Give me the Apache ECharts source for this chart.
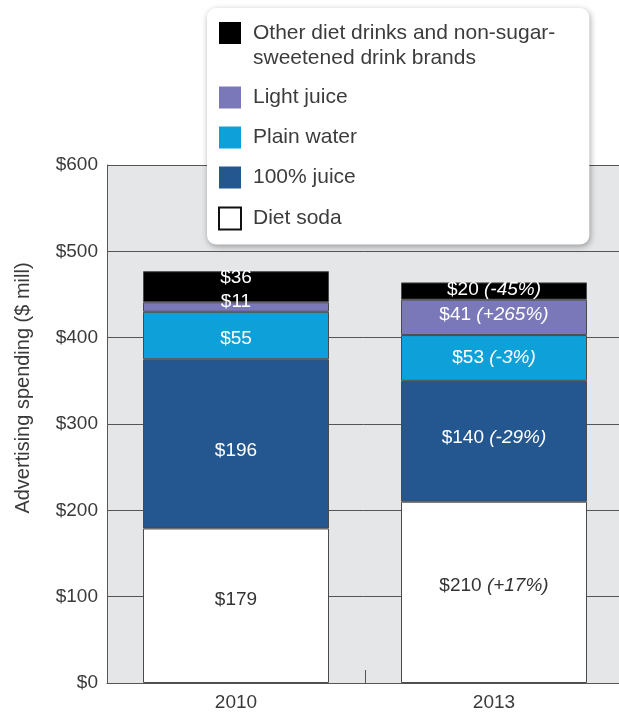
<!DOCTYPE html>
<html>
<head>
<meta charset="utf-8">
<script src="https://cdn.jsdelivr.net/npm/echarts@6/dist/echarts.min.js"></script>
<style>
  html, body { margin: 0; padding: 0; background: #fff; }
  #chart { width: 619px; height: 713px; }
</style>
</head>
<body>
<div id="chart"></div>
<script>
const years = ['2010', '2013'];
const yTicks = [0, 100, 200, 300, 400, 500, 600];

const dietSoda = [179, 210];
const juice100 = [196, 140];
const plainWater = [55, 53];
const lightJuice = [11, 41];
const otherDiet = [36, 20];

// change 2010 -> 2013, shown next to the 2013 value
const dietSodaChange = ['', '+17%'];
const juice100Change = ['', '-29%'];
const plainWaterChange = ['', '-3%'];
const lightJuiceChange = ['', '+265%'];
const otherDietChange = ['', '-45%'];

const OTHER_NAME = 'Other diet drinks and non-sugar-sweetened drink brands';
const FONT = 'Liberation Sans, Arial, sans-serif';

function makeSeries(name, values, changes, color, textColor, offsets) {
  return {
    name: name,
    type: 'bar',
    stack: 'total',
    barWidth: 186,
    itemStyle: { color: color, borderColor: '#4a4a4a', borderWidth: 1 },
    label: {
      show: true,
      position: 'inside',
      color: textColor,
      fontFamily: FONT,
      fontSize: 19,
      formatter: p => {
        const ch = changes[p.dataIndex];
        return ch ? '$' + p.value + ' {i|(' + ch + ')}' : '$' + p.value;
      },
      rich: {
        i: { fontStyle: 'italic', color: textColor, fontFamily: FONT, fontSize: 19 }
      }
    },
    data: values.map((v, i) => {
      const item = { value: v };
      if (offsets && offsets[i]) item.label = { offset: [0, offsets[i]] };
      return item;
    })
  };
}

const chart = echarts.init(document.getElementById('chart'));
chart.setOption({
  animation: false,
  textStyle: { fontFamily: FONT },
  grid: {
    left: 107, top: 165, width: 516, height: 518,
    outerBoundsMode: 'none',
    show: true, backgroundColor: '#e5e6e8', borderWidth: 0
  },
  legend: {
    orient: 'vertical',
    left: 207,
    top: 8,
    padding: [14, 34, 14, 11],
    icon: 'rect',
    itemWidth: 22,
    itemHeight: 22,
    itemGap: 18,
    backgroundColor: '#fff',
    borderRadius: 9,
    shadowBlur: 6,
    shadowOffsetX: 1,
    shadowOffsetY: 2,
    shadowColor: 'rgba(0,0,0,0.35)',
    selectedMode: false,
    textStyle: { fontSize: 21, color: '#3c3c3c', fontFamily: FONT, padding: [0, 0, 0, 7] },
    formatter: name => name === OTHER_NAME
      ? '{a|Other diet drinks and non-sugar-}\n{b|sweetened drink brands}'
      : name,
    data: [
      {
        name: OTHER_NAME,
        itemStyle: { borderWidth: 0 },
        textStyle: {
          padding: [10, 0, 10, 7],
          rich: {
            a: { fontSize: 21, color: '#3c3c3c', fontFamily: FONT, lineHeight: 50 },
            b: { fontSize: 21, color: '#3c3c3c', fontFamily: FONT, lineHeight: 0 }
          }
        }
      },
      { name: 'Light juice', itemStyle: { borderWidth: 0 } },
      { name: 'Plain water', itemStyle: { borderWidth: 0 } },
      { name: '100% juice', itemStyle: { borderWidth: 0 } },
      { name: 'Diet soda', itemStyle: { borderColor: '#111', borderWidth: 2 } }
    ]
  },
  xAxis: {
    type: 'category',
    data: years,
    axisLine: { lineStyle: { color: '#555', width: 1 } },
    axisTick: { show: true, inside: true, length: 13, lineStyle: { color: '#555' } },
    axisLabel: { fontSize: 19, color: '#3a3a3a', margin: 10 }
  },
  yAxis: {
    type: 'value',
    min: yTicks[0],
    max: yTicks[yTicks.length - 1],
    interval: 100,
    name: 'Advertising spending ($ mill)',
    nameLocation: 'middle',
    nameGap: 74,
    nameTextStyle: { fontSize: 20, color: '#3a3a3a', padding: [0, 0, 0, 72] },
    axisLine: { show: true, lineStyle: { color: '#555', width: 1 } },
    axisTick: { show: false },
    splitLine: { lineStyle: { color: '#555', width: 1 } },
    axisLabel: { fontSize: 19, color: '#3a3a3a', margin: 9, formatter: v => '$' + v }
  },
  series: [
    makeSeries('Diet soda', dietSoda, dietSodaChange, '#ffffff', '#333333', [-6, -7]),
    makeSeries('100% juice', juice100, juice100Change, '#24568f', '#ffffff', [7, -4]),
    makeSeries('Plain water', plainWater, plainWaterChange, '#0ea0d8', '#ffffff', [3, 0]),
    makeSeries('Light juice', lightJuice, lightJuiceChange, '#7b78b9', '#ffffff', [-5, -3]),
    makeSeries(OTHER_NAME, otherDiet, otherDietChange, '#000000', '#ffffff', [-9, -1])
  ]
});
</script>
</body>
</html>
